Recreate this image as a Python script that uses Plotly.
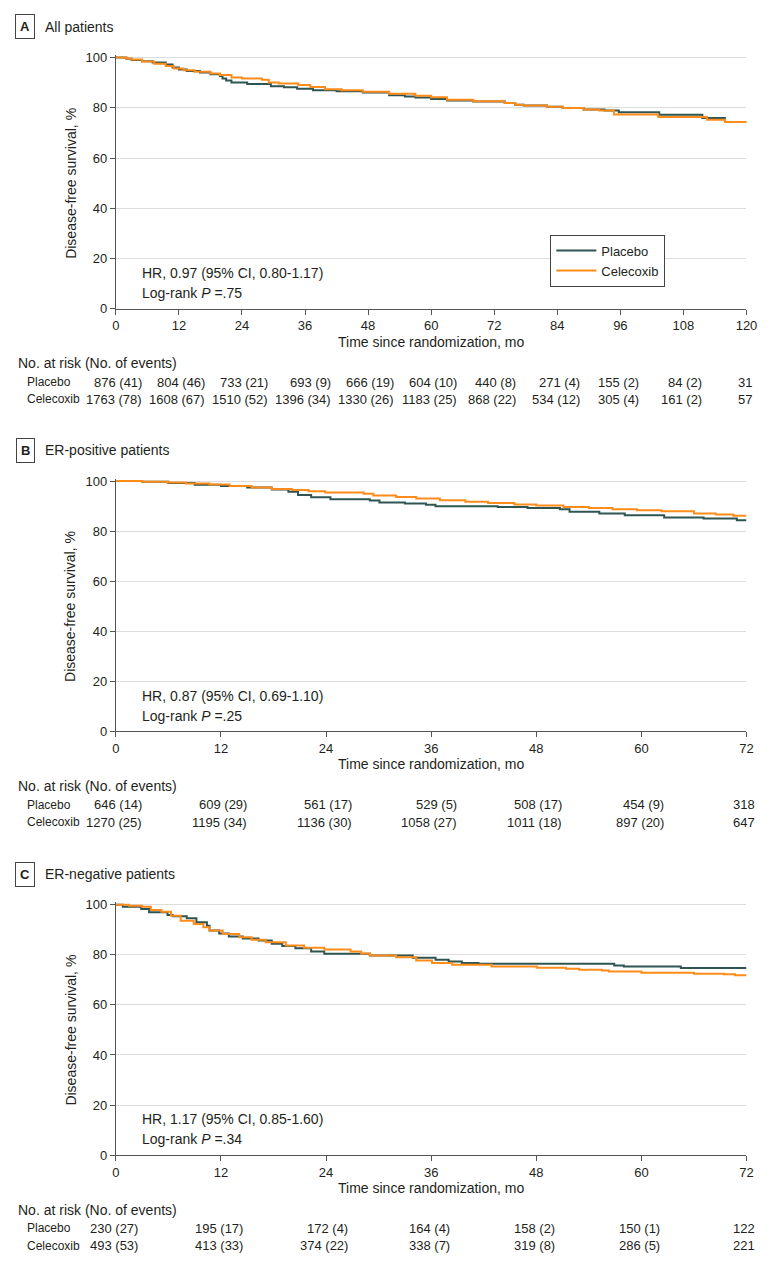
import plotly.graph_objects as go

# ---------------- data ----------------
# Panel A: All patients (months, % disease-free)
a_placebo_t = [0, 2, 3, 5, 7, 9.5, 10.8, 12, 13.5, 16, 18, 19.8, 20.3, 21, 22, 25, 29.5, 32, 34.5, 37.5, 42, 47, 52, 55, 57, 60, 63, 68, 74, 76, 77.6, 82, 85, 89, 93, 95.7, 103.4, 111.6, 115.9, 120]
a_placebo_s = [100, 99.5, 99.0, 98.5, 98.0, 97.2, 96.0, 95.2, 94.6, 94.0, 93.3, 92.6, 91.6, 90.8, 90.0, 89.4, 88.5, 88.1, 87.6, 87.0, 86.6, 86.1, 85.0, 84.5, 84.1, 83.5, 82.9, 82.5, 81.9, 81.2, 80.9, 80.4, 79.9, 79.3, 78.9, 78.2, 77.2, 75.9, 74.3, 74.3]
a_celecoxib_t = [0, 2, 3, 5, 7.3, 9.5, 11, 12.9, 15, 18, 19.8, 22, 24, 27.8, 29.1, 31, 34.7, 37, 39.8, 43, 47, 52, 57, 60, 63, 68, 74, 76, 77.6, 82, 85, 89, 92, 94.8, 103.2, 112.5, 115.9, 120]
a_celecoxib_s = [100, 99.6, 99.2, 98.4, 97.5, 96.6, 95.6, 94.9, 94.3, 93.6, 93.0, 92.0, 91.6, 91.1, 90.0, 89.6, 89.0, 88.2, 87.4, 87.0, 86.4, 85.6, 84.8, 84.2, 83.2, 82.6, 81.9, 81.2, 80.9, 80.4, 79.9, 79.3, 78.9, 77.3, 76.3, 75.2, 74.3, 74.3]

# Panel B: ER-positive patients
b_placebo_t = [0, 3, 6, 9, 12, 15, 17.8, 19.7, 20.8, 22.3, 24.5, 29, 30.1, 33, 35.4, 36.5, 43.6, 47, 50.7, 51.8, 55.2, 58.1, 62.6, 67.1, 70.9, 72]
b_placebo_s = [100, 99.7, 99.2, 98.5, 98.0, 97.4, 96.6, 95.7, 94.4, 93.5, 92.7, 92.2, 91.4, 91.0, 90.5, 90.0, 89.7, 89.3, 88.8, 87.8, 87.1, 86.4, 85.5, 85.1, 84.4, 84.4]
b_celecoxib_t = [0, 3, 5.9, 8, 10.7, 13, 15.5, 17.8, 20.1, 22, 23.9, 28.3, 29.4, 32, 34.3, 37, 39.9, 42.5, 45.5, 48, 51.1, 54, 56.7, 59.5, 62.3, 66, 68.5, 70.5, 72]
b_celecoxib_s = [100, 99.7, 99.4, 99.0, 98.6, 98.0, 97.4, 96.8, 96.4, 95.9, 95.4, 94.9, 94.2, 93.6, 93.0, 92.3, 91.7, 91.2, 90.6, 90.2, 89.7, 89.3, 88.8, 88.4, 88.0, 87.1, 86.7, 86.2, 86.2]

# Panel C: ER-negative patients
c_placebo_t = [0, 0.8, 2.9, 3.8, 5.9, 6.5, 8.1, 9.2, 10.4, 10.7, 11.8, 12.9, 14.5, 16.3, 17.8, 19, 20.5, 22.3, 23.8, 29, 33.9, 36.5, 38, 39.5, 41.4, 56.9, 58, 64.5, 72]
c_placebo_s = [100, 99.2, 98.3, 97.0, 95.9, 95.4, 94.6, 93.0, 91.6, 89.7, 88.5, 87.3, 86.5, 85.7, 84.4, 83.5, 82.6, 81.3, 80.4, 79.7, 78.8, 78.0, 77.3, 76.7, 76.4, 75.7, 75.3, 74.7, 74.7]
c_celecoxib_t = [0, 1.5, 3, 4, 5.2, 6.3, 7.4, 8.9, 10, 10.7, 12.2, 14.1, 15.5, 17.1, 19.4, 21.5, 23.8, 26.8, 28, 29, 32, 34.3, 36.1, 38.4, 42.9, 48.1, 51.4, 52.9, 55.5, 56.3, 60, 66, 69.4, 70.7, 72]
c_celecoxib_s = [100, 99.6, 99.2, 97.9, 97.2, 95.6, 93.6, 92.3, 91.0, 89.7, 88.3, 87.0, 86.0, 85.0, 83.7, 82.8, 82.1, 81.3, 80.5, 79.7, 79.0, 77.7, 76.7, 76.0, 75.3, 74.8, 74.4, 74.0, 73.7, 73.3, 72.8, 72.4, 72.2, 71.8, 71.8]

# Number at risk (No. of events)
a_ticks = [0, 12, 24, 36, 48, 60, 72, 84, 96, 108, 120]
a_risk_placebo = ["876 (41)", "804 (46)", "733 (21)", "693 (9)", "666 (19)", "604 (10)", "440 (8)", "271 (4)", "155 (2)", "84 (2)", "31"]
a_risk_celecoxib = ["1763 (78)", "1608 (67)", "1510 (52)", "1396 (34)", "1330 (26)", "1183 (25)", "868 (22)", "534 (12)", "305 (4)", "161 (2)", "57"]

bc_ticks = [0, 12, 24, 36, 48, 60, 72]
b_risk_placebo = ["646 (14)", "609 (29)", "561 (17)", "529 (5)", "508 (17)", "454 (9)", "318"]
b_risk_celecoxib = ["1270 (25)", "1195 (34)", "1136 (30)", "1058 (27)", "1011 (18)", "897 (20)", "647"]
c_risk_placebo = ["230 (27)", "195 (17)", "172 (4)", "164 (4)", "158 (2)", "150 (1)", "122"]
c_risk_celecoxib = ["493 (53)", "413 (33)", "374 (22)", "338 (7)", "319 (8)", "286 (5)", "221"]

y_ticks = [0, 20, 40, 60, 80, 100]
panel_letters = ["A", "B", "C"]
panel_titles = ["All patients", "ER-positive patients", "ER-negative patients"]
hr_texts = ["HR, 0.97 (95% CI, 0.80-1.17)", "HR, 0.87 (95% CI, 0.69-1.10)", "HR, 1.17 (95% CI, 0.85-1.60)"]
p_texts = [".75", ".25", ".34"]
series_names = ["Placebo", "Celecoxib"]

# ---------------- styling / layout ----------------
W, H = 783, 1271
FONT = "Liberation Sans, Arial, sans-serif"
TXT = "#231f20"
AX = "#555555"
GRID = "#dddddd"
COL_PLACEBO = "#2e5552"
COL_CELE = "#ff8c1a"

X0_PX, X1_PX = 114, 757
panels_px = [(53, 307), (481, 734), (909, 1162)]  # pixel of y=100, y=0
YMAX = 101

def px_x(p):
    return p / W

def px_y(p):
    return 1 - p / H

def text_w(s, size=13):
    w = 0
    for ch in s:
        if ch.isdigit():
            w += 0.556
        elif ch == " ":
            w += 0.278
        elif ch in "()":
            w += 0.333
        else:
            w += 0.5
    return w * size

fig = go.Figure()
layout = dict(
    width=W, height=H,
    margin=dict(l=0, r=0, t=0, b=0),
    paper_bgcolor="white", plot_bgcolor="white",
    font=dict(family=FONT, size=13, color=TXT),
    showlegend=True,
)

curves = [
    (a_placebo_t, a_placebo_s, a_celecoxib_t, a_celecoxib_s, 120, a_ticks, a_risk_placebo, a_risk_celecoxib),
    (b_placebo_t, b_placebo_s, b_celecoxib_t, b_celecoxib_s, 72, bc_ticks, b_risk_placebo, b_risk_celecoxib),
    (c_placebo_t, c_placebo_s, c_celecoxib_t, c_celecoxib_s, 72, bc_ticks, c_risk_placebo, c_risk_celecoxib),
]

annotations = []
for i, (pt, ps, ct, cs, xmax, ticks, rp, rc) in enumerate(curves):
    n = "" if i == 0 else str(i + 1)
    xa, ya = "x" + n, "y" + n
    top_px, bot_px = panels_px[i]
    unit = (bot_px - top_px) / 100.0
    dom_top = bot_px - YMAX * unit
    fig.add_trace(go.Scatter(x=pt, y=ps, mode="lines", line=dict(color=COL_PLACEBO, width=2, shape="hv"),
                             name=series_names[0], showlegend=(i == 0), xaxis=xa, yaxis=ya, hoverinfo="skip"))
    fig.add_trace(go.Scatter(x=ct, y=cs, mode="lines", line=dict(color=COL_CELE, width=2, shape="hv"),
                             name=series_names[1], showlegend=(i == 0), xaxis=xa, yaxis=ya, hoverinfo="skip"))
    layout["xaxis" + n] = dict(
        domain=[px_x(X0_PX), px_x(X1_PX)], range=[0, xmax], anchor=ya,
        tickvals=ticks, ticks="outside", ticklen=5, tickcolor=AX, tickwidth=1,
        showline=True, linecolor=AX, linewidth=1, showgrid=False, zeroline=False,
        tickfont=dict(size=13, color=TXT),
    )
    layout["yaxis" + n] = dict(
        domain=[px_y(bot_px), px_y(dom_top)], range=[0, YMAX], anchor=xa,
        tickvals=y_ticks, ticks="outside", ticklen=5, tickcolor=AX, tickwidth=1,
        showline=True, linecolor=AX, linewidth=1, showgrid=True, gridcolor=GRID, gridwidth=1,
        zeroline=False, tickfont=dict(size=13, color=TXT),
    )
    # panel header
    hdr_px = top_px - 31
    annotations.append(dict(text="<b>" + panel_letters[i] + "</b>", x=px_x(21.5), y=px_y(hdr_px), xref="paper", yref="paper",
                            xanchor="center", yanchor="middle", showarrow=False, font=dict(size=13, color=TXT),
                            bordercolor="#444444", borderwidth=1, borderpad=4, bgcolor="white"))
    annotations.append(dict(text=panel_titles[i], x=px_x(40), y=px_y(hdr_px), xref="paper", yref="paper",
                            xanchor="left", yanchor="middle", showarrow=False, font=dict(size=14, color=TXT)))
    # y title
    annotations.append(dict(text="Disease-free survival, %", x=px_x(68), y=px_y((top_px + bot_px) / 2), xref="paper", yref="paper",
                            xanchor="center", yanchor="middle", textangle=-90, showarrow=False, font=dict(size=14, color=TXT)))
    # x title
    annotations.append(dict(text="Time since randomization, mo", x=px_x((X0_PX + X1_PX) / 2), y=px_y(bot_px + 33), xref="paper", yref="paper",
                            xanchor="center", yanchor="middle", showarrow=False, font=dict(size=14, color=TXT)))
    # HR text
    annotations.append(dict(text=hr_texts[i], x=px_x(139), y=px_y(bot_px - 36), xref="paper", yref="paper",
                            xanchor="left", yanchor="middle", showarrow=False, font=dict(size=14, color=TXT)))
    annotations.append(dict(text="Log-rank <i>P</i> =" + p_texts[i], x=px_x(139), y=px_y(bot_px - 16), xref="paper", yref="paper",
                            xanchor="left", yanchor="middle", showarrow=False, font=dict(size=14, color=TXT)))
    # at-risk table
    annotations.append(dict(text="No. at risk (No. of events)", x=px_x(12), y=px_y(bot_px + 55), xref="paper", yref="paper",
                            xanchor="left", yanchor="middle", showarrow=False, font=dict(size=14, color=TXT)))
    for r, (lab, row) in enumerate([(series_names[0], rp), (series_names[1], rc)]):
        ypx = bot_px + 74 + r * 17.5
        annotations.append(dict(text=lab, x=px_x(21), y=px_y(ypx), xref="paper", yref="paper",
                                xanchor="left", yanchor="middle", showarrow=False, font=dict(size=12, color=TXT)))
        for k, tv in enumerate(ticks):
            half = max(text_w(rp[k]), text_w(rc[k])) / 2
            annotations.append(dict(text=row[k], x=tv, y=px_y(ypx), xref=xa, yref="paper",
                                    xanchor="right", yanchor="middle", xshift=half, showarrow=False,
                                    font=dict(size=13, color=TXT)))

layout["annotations"] = annotations
layout["legend"] = dict(x=px_x(557), y=px_y(232), xanchor="left", yanchor="top",
                        bordercolor="#444444", borderwidth=1, bgcolor="white",
                        font=dict(size=13, color=TXT), itemwidth=40, tracegroupgap=0)
fig.update_layout(**layout)
fig.write_html("out.html", config={"displayModeBar": False, "staticPlot": True})

# remove the browser's default page margin so the figure sits at the window origin
with open("out.html", "r", encoding="utf-8") as fh:
    html = fh.read()
html = html.replace("<body>", '<body style="margin:0;padding:0;overflow:hidden">', 1)
with open("out.html", "w", encoding="utf-8") as fh:
    fh.write(html)
